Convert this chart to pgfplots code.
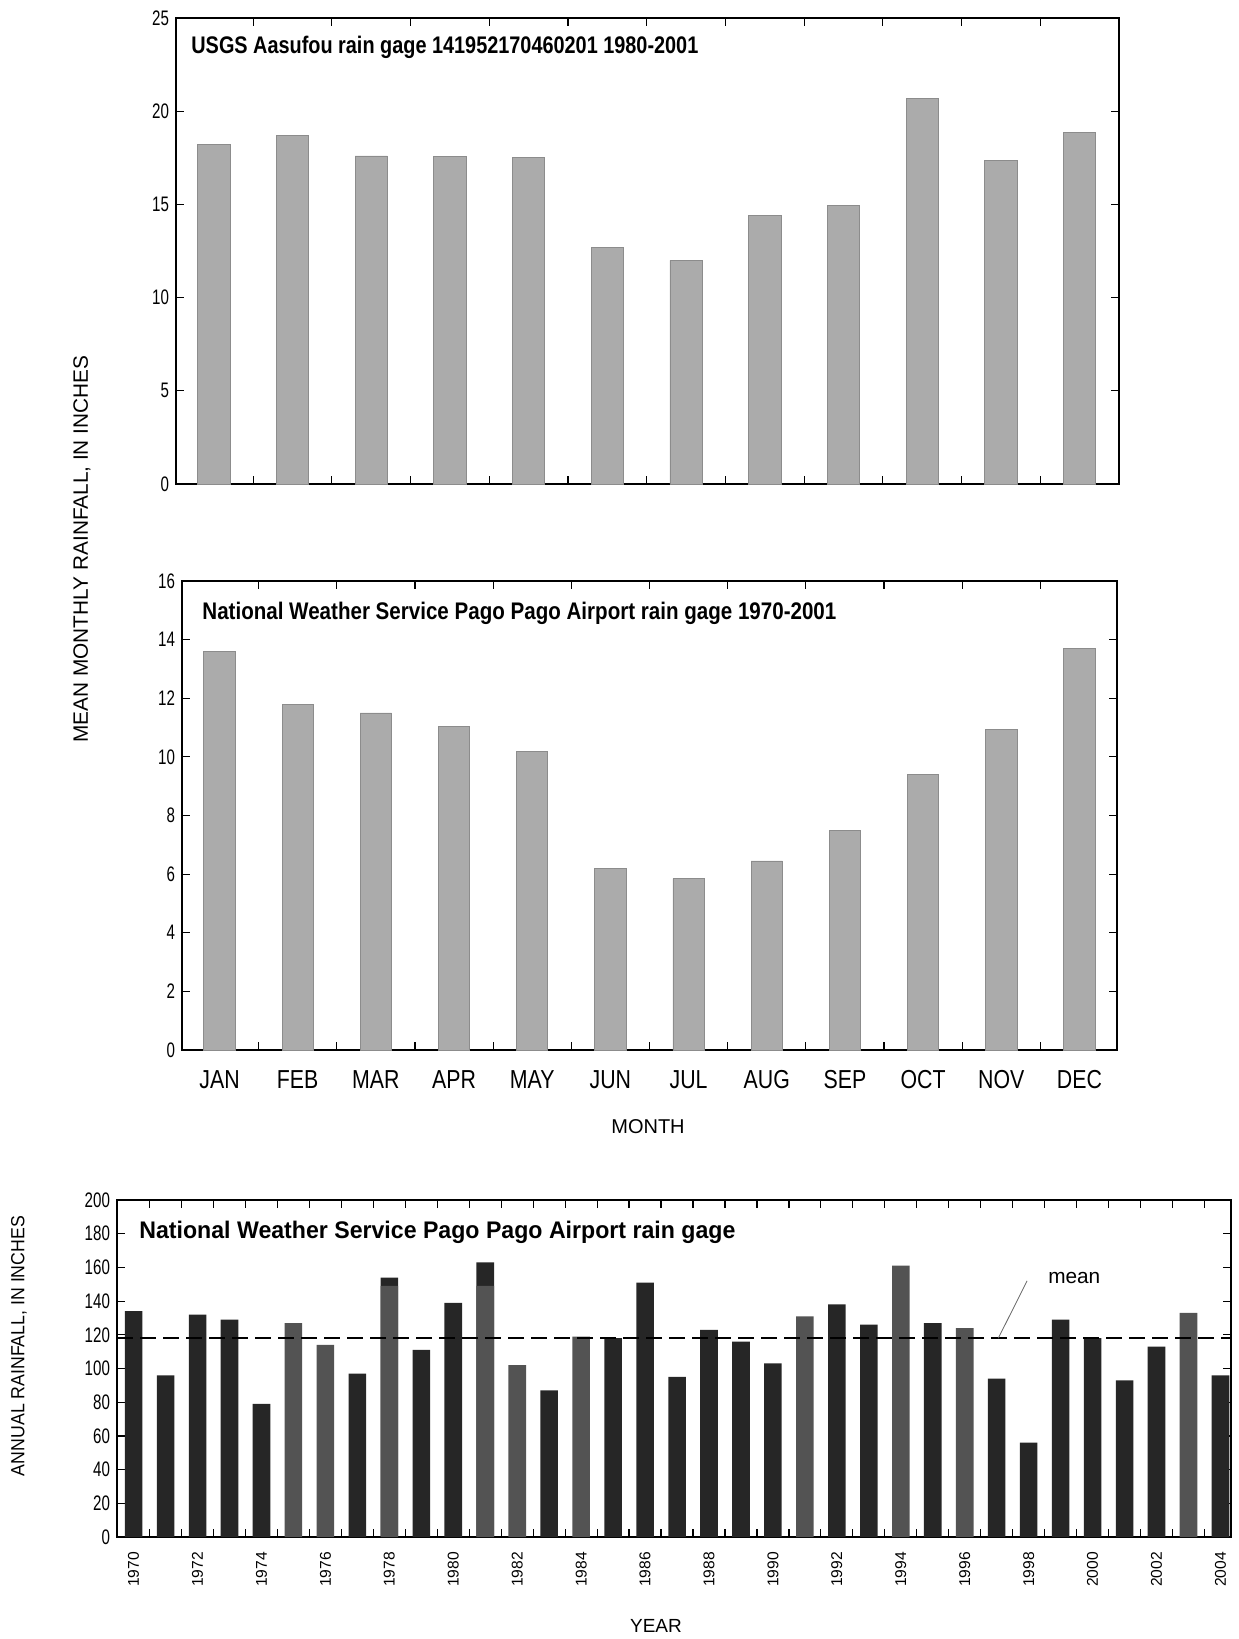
\documentclass[border=0pt]{standalone}
\usepackage{fontspec}
\usepackage{graphicx}
\usepackage{pgfplots}
\pgfplotsset{compat=1.18}
\setmainfont{Liberation Sans}
\newfontfamily\cond[FakeStretch=0.72]{Liberation Sans}
\newfontfamily\condm[FakeStretch=0.82]{Liberation Sans}
\definecolor{barg}{HTML}{ABABAB}
\definecolor{barline}{HTML}{8C8C8C}
\definecolor{darkbar}{HTML}{262626}
\definecolor{graybar}{HTML}{535353}
\begin{document}
\begin{tikzpicture}
\path (0,0) rectangle (619pt,-819.5pt);
\pgfplotsset{
  myaxis/.style={
    scale only axis, anchor=south west,
    tick align=inside, major tick length=4pt, minor tick length=4pt,
    axis line style={line width=0.7pt},
    every tick/.style={line width=0.6pt, black},
    yticklabel style={font=\cond\fontsize{10.5}{12}\selectfont},
    /pgf/number format/assume math mode=true,
    ymin=0,
  }
}
% ---------- top panel ----------
\begin{axis}[myaxis,
  at={(88pt,-242pt)}, width=471.5pt, height=233pt,
  xmin=-0.48, xmax=11.5, ymax=25,
  ytick={0,5,10,15,20,25},
  xtick={0.5,1.5,...,10.5}, xticklabels={},
]
\addplot[ybar, bar width=0.41, bar shift=0pt, fill=barg, draw=barline, line width=0.4pt]
coordinates {(0,18.2) (1,18.7) (2,17.6) (3,17.55) (4,17.5) (5,12.7) (6,12.0) (7,14.4) (8,14.95) (9,20.7) (10,17.35) (11,18.85)};
\end{axis}
\node[anchor=west, inner sep=0pt] at (95.5pt,-23.5pt) {\resizebox{253.5pt}{\height}{\fontsize{12}{14}\selectfont\bfseries USGS Aasufou rain gage 141952170460201 1980-2001}};
% ---------- middle panel ----------
\begin{axis}[myaxis,
  at={(91pt,-525pt)}, width=467.5pt, height=234.5pt,
  xmin=-0.48, xmax=11.48, ymax=16,
  ytick={0,2,...,16},
  xtick={0.5,1.5,...,10.5}, xticklabels={},
  extra x ticks={0,1,2,3,4,5,6,7,8,9,10,11},
  extra x tick labels={JAN,FEB,MAR,APR,MAY,JUN,JUL,AUG,SEP,OCT,NOV,DEC},
  extra x tick style={major tick length=0pt, tick style={draw=none},
    xticklabel style={font=\condm\fontsize{13}{15}\selectfont, yshift=-6pt, text height=9.6pt, text depth=0pt}},
]
\addplot[ybar, bar width=0.40, bar shift=0pt, fill=barg, draw=barline, line width=0.4pt]
coordinates {(0,13.6) (1,11.8) (2,11.5) (3,11.05) (4,10.2) (5,6.2) (6,5.85) (7,6.45) (8,7.5) (9,9.4) (10,10.95) (11,13.7)};
\end{axis}
\node[anchor=west, inner sep=0pt] at (101pt,-306.5pt) {\resizebox{317pt}{\height}{\fontsize{12}{14}\selectfont\bfseries National Weather Service Pago Pago Airport rain gage 1970-2001}};
\node[rotate=90, inner sep=0pt] at (41pt,-274.5pt) {\fontsize{10.4}{12}\selectfont MEAN MONTHLY RAINFALL, IN INCHES};
\node[inner sep=0pt] at (324pt,-563.5pt) {\fontsize{10}{12}\selectfont MONTH};
% ---------- bottom panel ----------
\begin{axis}[myaxis,
  at={(58.5pt,-768.5pt)}, width=557pt, height=168.5pt,
  xmin=-0.52, xmax=34.33, ymax=200,
  ytick={0,20,...,200},
  xtick={0.5,1.5,...,33.5}, xticklabels={},
  extra x ticks={0,2,...,34},
  extra x tick labels={1970,1972,1974,1976,1978,1980,1982,1984,1986,1988,1990,1992,1994,1996,1998,2000,2002,2004},
  extra x tick style={major tick length=0pt, tick style={draw=none},
    xticklabel style={rotate=90, anchor=east, font=\fontsize{7.8}{9}\selectfont},
    xticklabel shift=4pt},
]
\addplot[ybar, bar width=0.55, bar shift=0pt, fill=darkbar, draw=none]
coordinates {(0,134) (1,96) (2,132) (3,129) (4,79) (7,97) (8,154) (9,111) (10,139) (11,163) (13,87) (15,118) (16,151) (17,95) (18,123) (19,116) (20,103) (22,138) (23,126) (25,127) (27,94) (28,56) (29,129) (30,118) (31,93) (32,113) (34,96)};
\addplot[ybar, bar width=0.55, bar shift=0pt, fill=graybar, draw=none]
coordinates {(5,127) (6,114) (8,149) (11,149) (12,102) (14,119) (21,131) (24,161) (26,124) (33,133)};
\addplot[black, line width=1.3pt, dash pattern=on 8pt off 3.5pt] coordinates {(-0.52,118) (34.33,118)};
\draw[black!60, line width=0.4pt] (axis cs:27.05,118) -- (axis cs:27.95,152);
\node[anchor=west, inner sep=0pt] at (axis cs:28.6,154) {\fontsize{10.4}{12}\selectfont mean};
\end{axis}
\node[anchor=west, inner sep=0pt] at (69.5pt,-616pt) {\resizebox{298pt}{\height}{\fontsize{12}{14}\selectfont\bfseries National Weather Service Pago Pago Airport rain gage}};
\node[rotate=90, inner sep=0pt] at (9.5pt,-673pt) {\resizebox{130pt}{\height}{\fontsize{9.5}{11}\selectfont ANNUAL RAINFALL, IN INCHES}};
\node[inner sep=0pt] at (328pt,-813pt) {\fontsize{9.5}{11}\selectfont YEAR};
\end{tikzpicture}
\end{document}
